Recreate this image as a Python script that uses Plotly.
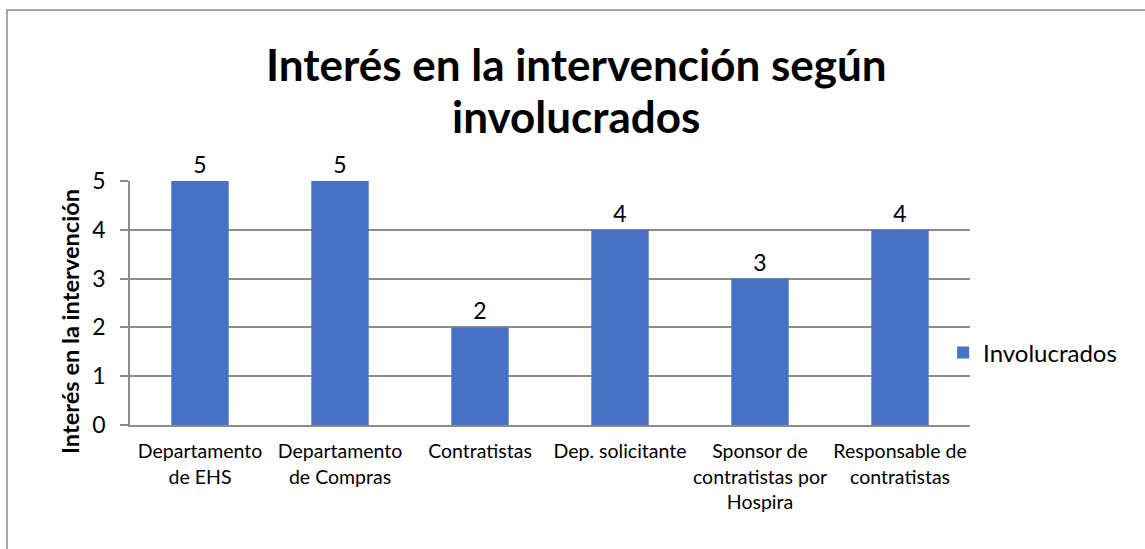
import plotly.graph_objects as go

categories = ["Departamento<br>de EHS", "Departamento<br>de Compras", "Contratistas",
              "Dep. solicitante", "Sponsor de<br>contratistas por<br>Hospira",
              "Responsable de<br>contratistas"]
values = [5, 5, 2, 4, 3, 4]
series_name = "Involucrados"
y_ticks = [0, 1, 2, 3, 4, 5]
title_lines = ["Interés en la intervención según", "involucrados"]
y_title = "Interés en la intervención"

FONT = "Lato"
fig = go.Figure()
fig.add_trace(go.Bar(
    x=categories, y=values, name=series_name,
    marker=dict(color="#4673C6", line=dict(width=0)),
    text=[str(v) for v in values], textposition="outside",
    textfont=dict(family=FONT, size=23, color="#000000"),
    cliponaxis=False, showlegend=True,
))

fig.update_layout(
    width=1145, height=549,
    paper_bgcolor="white", plot_bgcolor="white",
    margin=dict(l=130, r=175, t=181, b=124),
    bargap=0.59,
    font=dict(family=FONT, color="#000000"),
    showlegend=True,
    legend=dict(x=0.968, xanchor="left", y=0.295, yanchor="middle",
                font=dict(family=FONT, size=24, color="#000000"),
                bgcolor="rgba(0,0,0,0)"),
    xaxis=dict(showline=True, linecolor="#8C8C8C", linewidth=1.5,
               tickfont=dict(family=FONT, size=19.5, color="#000000"),
               ticks="", showgrid=False, tickangle=0, ticklabelstandoff=8),
    yaxis=dict(range=[0, 5], tickvals=y_ticks, showgrid=True, gridcolor="#8C8C8C",
               gridwidth=1.5, showline=True, linecolor="#8C8C8C", linewidth=1.5,
               ticks="outside", ticklen=8, tickcolor="#8C8C8C", tickwidth=1.5,
               tickfont=dict(family=FONT, size=23, color="#000000"),
               ticklabelstandoff=10, zeroline=False),
)

# title lines (Excel-style tighter line spacing)
for txt, py in zip(title_lines, [64, 116]):
    fig.add_annotation(text=f"<b>{txt}</b>", xref="paper", yref="paper",
                       x=(576 - 130) / 840, y=(425 - py) / 244, xanchor="center", yanchor="middle",
                       showarrow=False, font=dict(family=FONT, size=44, color="#000000"))

fig.add_annotation(text=f"<b>{y_title}</b>", xref="paper", yref="paper",
                   x=(70 - 130) / 840, y=(425 - 322) / 244, textangle=-90,
                   xanchor="center", yanchor="middle", showarrow=False,
                   font=dict(family=FONT, size=23.6, color="#000000"))

fig.add_shape(type="rect", xref="paper", yref="paper",
              x0=-0.1464, y0=-1.0, x1=1.5, y1=1.7008,
              line=dict(color="#8C8C8C", width=1.5), fillcolor="rgba(0,0,0,0)", layer="below")
fig.write_html("out.html", config={"displayModeBar": False},
               post_script="document.body.style.margin='0';")
